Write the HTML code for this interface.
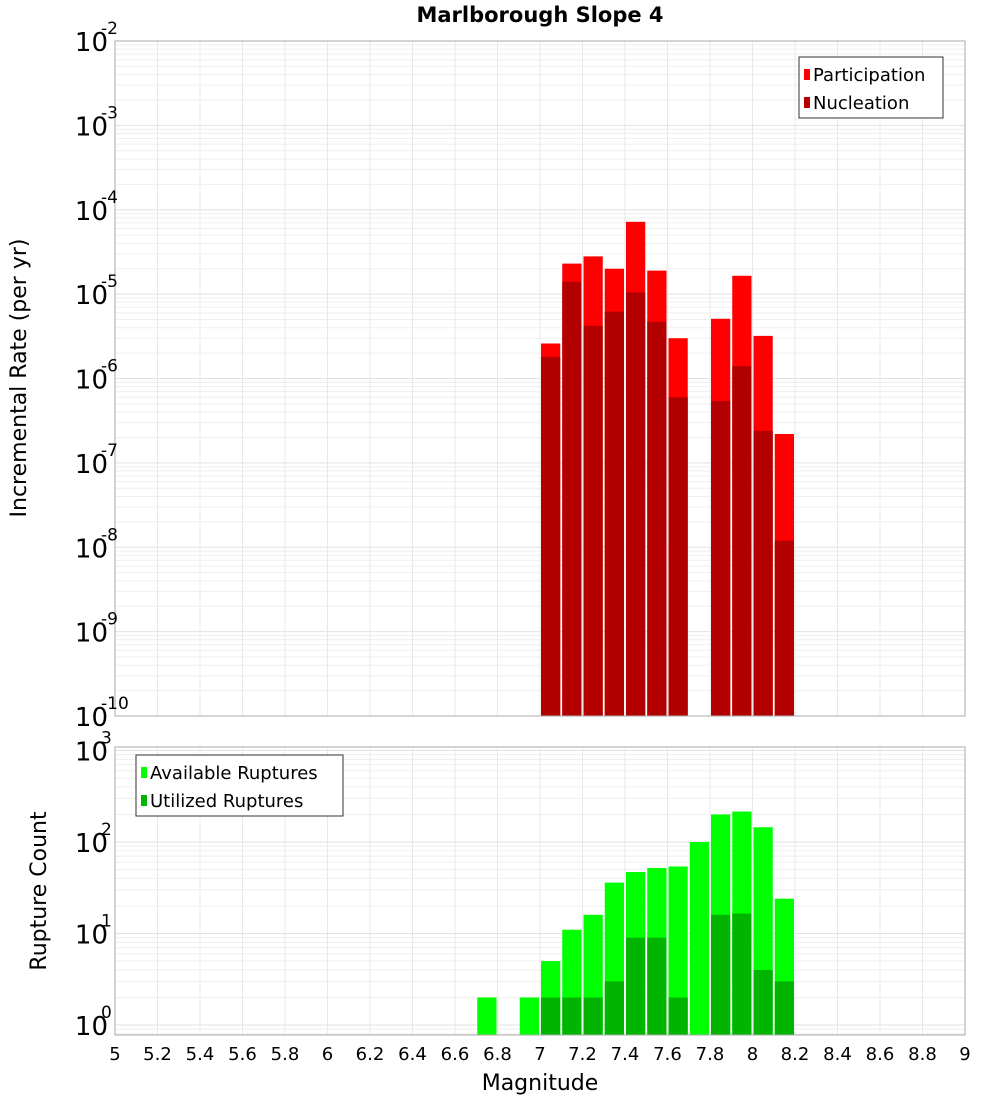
<!DOCTYPE html>
<html><head><meta charset="utf-8"><style>
body{margin:0;background:#fff;font-family:"Liberation Sans","DejaVu Sans",sans-serif}
svg text{font-family:"DejaVu Sans","Liberation Sans",sans-serif}
</style></head><body>
<svg id="chart" width="1000" height="1100" xmlns="http://www.w3.org/2000/svg">
<text x="540" y="22" text-anchor="middle" font-size="21" font-weight="bold">Marlborough Slope 4</text>
<g id="top"></g>
<g id="bot"></g>
<text transform="translate(26,378) rotate(-90)" text-anchor="middle" font-size="22">Incremental Rate (per yr)</text>
<text transform="translate(46,891) rotate(-90)" text-anchor="middle" font-size="22">Rupture Count</text>
<text x="540" y="1090" text-anchor="middle" font-size="22">Magnitude</text>
</svg>
<script>
const binStarts=[6.7,6.8,6.9,7.0,7.1,7.2,7.3,7.4,7.5,7.6,7.7,7.8,7.9,8.0,8.1];
const participation=[0,0,0,2.6e-6,2.3e-5,2.8e-5,2.0e-5,7.2e-5,1.9e-5,3.0e-6,0,5.1e-6,1.65e-5,3.2e-6,2.2e-7];
const nucleation=[0,0,0,1.8e-6,1.4e-5,4.2e-6,6.2e-6,1.05e-5,4.7e-6,6e-7,0,5.4e-7,1.4e-6,2.4e-7,1.2e-8];
const available=[2,0,2,5,11,16,36,47,52,54,100,200,215,145,24];
const utilized=[0,0,0,2,2,2,3,9,9,2,0,16,16.5,4,3];
const xTicks=[5,5.2,5.4,5.6,5.8,6,6.2,6.4,6.6,6.8,7,7.2,7.4,7.6,7.8,8,8.2,8.4,8.6,8.8,9];
const topDecades=[-10,-9,-8,-7,-6,-5,-4,-3,-2];
const botDecades=[0,1,2,3];

const NS="http://www.w3.org/2000/svg";
const X0=115,X1=965;
const xs=m=>X0+(m-5)/4*(X1-X0);
function mk(parent,tag,attrs){const e=document.createElementNS(NS,tag);for(const k in attrs)e.setAttribute(k,attrs[k]);parent.appendChild(e);return e;}
function panel(g,top,bottom,lmin,lmax,decades,s1,s2,c1,c2,legend,legendPos){
  const ys=v=>bottom-(Math.log10(v)-lmin)/(lmax-lmin)*(bottom-top);
  const bg=mk(g,'rect',{x:X0,y:top,width:X1-X0,height:bottom-top,fill:'#fff'});
  
  
  for(let d=Math.floor(lmin);d<=Math.ceil(lmax);d++){for(let k=1;k<10;k++){const v=k*Math.pow(10,d);const l=Math.log10(v);if(l<lmin||l>lmax)continue;const y=ys(v);
    const gl=mk(g,'line',{x1:X0,x2:X1,y1:y,y2:y,stroke:k==1?'#e2e2e2':'#efefef','stroke-width':1});
    
    }}
  xTicks.forEach(t=>{const x=xs(t);const gl=mk(g,'line',{x1:x,x2:x,y1:top,y2:bottom,stroke:'#e8e8e8'});
    
    });
  const bw=xs(5.1)-xs(5);
  binStarts.forEach((b,i)=>{
    if(s1[i]>0){const r=mk(g,'rect',{x:xs(b)+1,y:ys(s1[i]),width:bw-2,height:bottom-ys(s1[i]),fill:c1});
      
      }
    if(s2[i]>0){const r=mk(g,'rect',{x:xs(b)+1,y:ys(s2[i]),width:bw-2,height:bottom-ys(s2[i]),fill:c2});
      
      }
  });
  const bd=mk(g,'rect',{x:X0,y:top,width:X1-X0,height:bottom-top,fill:'none',stroke:'#aaa'});
  
  
  decades.forEach(d=>{const y=ys(Math.pow(10,d));
    const t=mk(g,'text',{x:108,y:y+10,'text-anchor':'end','font-size':26});
    
    
    t.textContent='10';
    const sup=mk(g,'text',{x:101,y:y-7,'font-size':17});
    
    
    sup.textContent=String(d);
  });
  const [lx,ly,lw]=legendPos;
  const lg=mk(g,'g',{});
  
  
  mk(lg,'rect',{x:lx,y:ly,width:lw,height:61,fill:'#fff',stroke:'#333'});
  [c1,c2].forEach((c,i)=>{
    const e=mk(lg,'g',{});
    
    
    mk(e,'rect',{x:lx+5,y:ly+12+i*28,width:6,height:11,fill:c});
    const t=mk(e,'text',{x:lx+14,y:ly+24+i*28,'font-size':18});
    t.textContent=legend[i];
  });
}
panel(document.getElementById('top'),41,716,-10,-2,topDecades,participation,nucleation,'#ff0000','#b20000',['Participation','Nucleation'],[799,57,144]);
panel(document.getElementById('bot'),747,1035,-0.109,3.038,botDecades,available,utilized,'#00ff00','#00b400',['Available Ruptures','Utilized Ruptures'],[136,755,207]);
const svg=document.getElementById('chart');
xTicks.forEach(t=>{
  const tx=mk(svg,'text',{x:xs(t),y:1060,'text-anchor':'middle','font-size':18});
  
  
  tx.textContent=String(t);
});
</script>
</body></html>
